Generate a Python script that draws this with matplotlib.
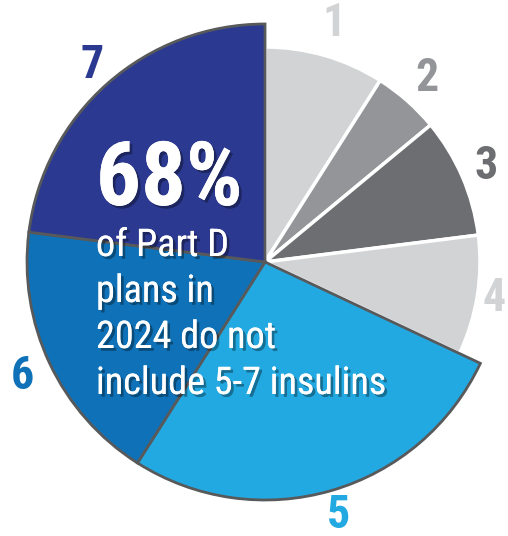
import matplotlib
matplotlib.use("Agg")
import matplotlib.pyplot as plt
import matplotlib.patheffects as pe
import matplotlib.font_manager as fm
import numpy as np

# ---------------- data ----------------
labels = ["1", "2", "3", "4", "5", "6", "7"]
shares = [9, 5, 9, 9, 27, 18, 23]
colors = ["#d1d3d4", "#939598", "#6d6e71", "#d1d3d4", "#23a9e1", "#0f72b8", "#2b3990"]
headline = "68%"
body_lines = ["of Part D", "plans in", "2024 do not", "include 5-7 insulins"]

# pick a condensed sans that is installed (Helvetica Condensed look)
wanted = ["Liberation Sans Narrow", "Roboto Condensed", "Archivo Narrow", "PT Sans Narrow",
          "Fira Sans Condensed", "IBM Plex Sans Condensed", "Barlow Semi Condensed",
          "Open Sans Condensed", "Sofia Sans Condensed", "Saira SemiCondensed"]
installed = {}
for f in fm.fontManager.ttflist:
    installed.setdefault(f.name, set()).add(f.weight if isinstance(f.weight, int) else 400)


def pick(bold):
    for name in wanted:
        if name in installed:
            if not bold or max(installed[name]) >= 600:
                return name
    return "DejaVu Sans"


font_reg = [pick(False), "DejaVu Sans"]
font_bold = [pick(True), "DejaVu Sans"]

# ---------------- layout (pixels) ----------------
W, H = 508, 536
cx, cy = 265, 262          # pie centre, from top-left
R = 238.0                  # radius of blue slices
r_gray = 215.0 / R

fig = plt.figure(figsize=(W / 100, H / 100), dpi=100)
ax = fig.add_axes([0, 0, 1, 1])

wedges, _ = ax.pie(shares, colors=colors, startangle=90, counterclock=False,
                   radius=1.0, center=(0, 0), frame=True)
ax.set_xlim(-cx / R, (W - cx) / R)
ax.set_ylim(-(H - cy) / R, cy / R)
ax.set_aspect("equal")
ax.axis("off")

for i, w in enumerate(wedges):
    if i < 4:
        w.set_radius(r_gray)
        w.set_edgecolor("white")
        w.set_linewidth(2.5)
        w.set_zorder(1)
    else:
        w.set_edgecolor("#58595b")
        w.set_linewidth(2.0)
        w.set_zorder(2)

# slice number labels
pads = [34, 30, 26, 17, 25, 30, 24]
for i, w in enumerate(wedges):
    mid = np.deg2rad((w.theta1 + w.theta2) / 2)
    rr = w.r + pads[i] / R
    ax.text(rr * np.cos(mid), rr * np.sin(mid), labels[i], color=colors[i],
            fontsize=33, fontweight="bold", family=font_bold,
            ha="center", va="center", zorder=5)

shadow = [pe.withSimplePatchShadow(offset=(2, -2), shadow_rgbFace="black", alpha=0.35),
          pe.Normal()]

# headline text
ax.text((96 - cx) / R, -(205 - cy) / R, headline, color="white", fontsize=64,
        fontweight="bold", family=font_bold, ha="left", va="baseline",
        path_effects=shadow, zorder=6)

for k, line in enumerate(body_lines):
    ax.text((96 - cx) / R, -(256 + 46 * k - cy) / R, line, color="white",
            fontsize=27.5, family=font_reg, ha="left", va="baseline",
            path_effects=shadow, zorder=6)

fig.savefig("out.png", dpi=100, facecolor="white")
